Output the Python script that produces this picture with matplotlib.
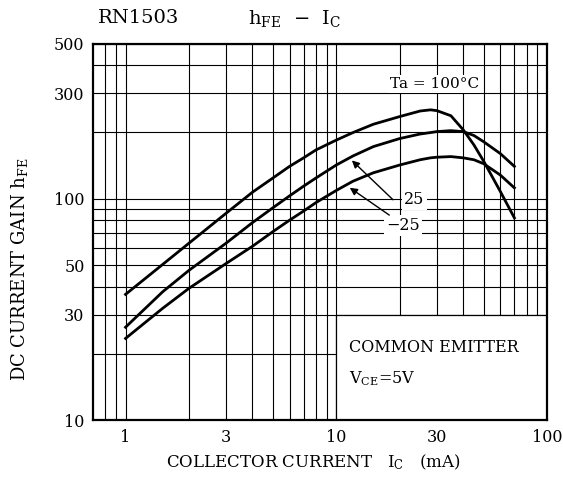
import matplotlib
matplotlib.use("Agg")
import matplotlib.pyplot as plt
from matplotlib.patches import Rectangle

plt.rcParams['font.family'] = 'DejaVu Serif'
plt.rcParams['mathtext.fontset'] = 'dejavuserif'
plt.rcParams['mathtext.default'] = 'regular'

# Collector current (mA)
ic = [1, 1.5, 2, 3, 4, 5, 6, 7, 8, 10, 12, 15, 20, 25, 28, 30, 35, 40, 45, 50, 60, 70]

# hFE per ambient temperature
hfe_100 = [37, 50.5, 63, 86, 107, 124, 140, 153, 166, 184, 199, 217, 235, 249, 252, 250,
           237, 205, 175, 148, 108, 82]
hfe_25 = [26.3, 38, 47.5, 63, 78, 91, 103, 114, 124, 142, 156, 172, 187, 196, 199, 201,
          203, 201, 193, 181, 160, 140]
hfe_m25 = [23.4, 32, 39.4, 51, 61, 71, 80, 88, 96, 109, 120, 131, 142, 150, 153, 154,
           155, 153, 150, 144, 128, 112]

x_ticks = [1, 3, 10, 30, 100]
y_ticks = [10, 30, 50, 100, 300, 500]
x_grid = [0.8, 0.9, 1, 2, 3, 4, 5, 6, 7, 8, 9, 10, 20, 30, 40, 50, 60, 70, 80, 90, 100]
y_grid = [20, 30, 40, 50, 60, 70, 80, 90, 100, 200, 300, 400, 500]

fig = plt.figure(figsize=(5.63, 4.83), dpi=100)
ax = fig.add_axes([0.165, 0.130, 0.8066, 0.779])
ax.set_xscale('log')
ax.set_yscale('log')
ax.set_xlim(0.7, 100)
ax.set_ylim(10, 500)

for x in x_grid:
    ax.axvline(x, color='black', lw=0.8, zorder=1)
for y in y_grid:
    ax.axhline(y, color='black', lw=0.8, zorder=1)

# condition box in lower right
ax.add_patch(Rectangle((10, 10), 90, 20, facecolor='white', edgecolor='black',
                       lw=0.9, zorder=2))
ax.text(11.5, 21.2, 'COMMON EMITTER', fontsize=11.5, zorder=3, va='center')
ax.text(11.5, 15.4, '$V_{CE}$=5V', fontsize=11.5, zorder=3, va='center')

for vals in (hfe_100, hfe_25, hfe_m25):
    ax.plot(ic, vals, color='black', lw=2.0, zorder=4, solid_joinstyle='round')

box = dict(facecolor='white', edgecolor='none', pad=1.5)
ax.text(29.3, 330, 'Ta = 100°C', fontsize=11, ha='center', va='center', bbox=box, zorder=5)
ax.text(23.5, 99, '25', fontsize=11.5, ha='center', va='center', bbox=box, zorder=5)
ax.text(20.8, 75.5, '−25', fontsize=11.5, ha='center', va='center', bbox=box, zorder=5)
ax.annotate('', xy=(11.6, 152), xytext=(19.0, 97),
            arrowprops=dict(arrowstyle='-|>', color='black', lw=1.0, mutation_scale=11),
            zorder=5)
ax.annotate('', xy=(11.3, 114), xytext=(18.3, 83),
            arrowprops=dict(arrowstyle='-|>', color='black', lw=1.0, mutation_scale=11),
            zorder=5)

ax.set_xticks(x_ticks)
ax.set_xticklabels([str(t) for t in x_ticks])
ax.set_yticks(y_ticks)
ax.set_yticklabels([str(t) for t in y_ticks])
ax.minorticks_off()
ax.tick_params(length=0, labelsize=11.5, pad=6)
for s in ax.spines.values():
    s.set_linewidth(1.6)
    s.set_zorder(6)

ax.set_xlabel('COLLECTOR CURRENT   $I_C$   (mA)', fontsize=12, labelpad=5)
ax.xaxis.label.set_x(0.485)
ax.set_ylabel('DC CURRENT GAIN $h_{FE}$', fontsize=13, labelpad=17)
ax.yaxis.label.set_y(0.40)

fig.text(0.174, 0.962, 'RN1503', fontsize=14, va='center')
fig.text(0.44, 0.962, '$h_{FE}$  −  $I_C$', fontsize=14, va='center')

fig.savefig('out.png', dpi=100)
